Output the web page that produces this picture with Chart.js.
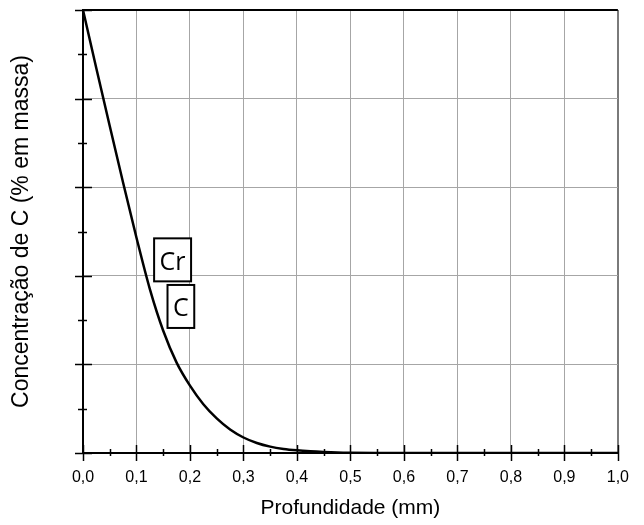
<!DOCTYPE html>
<html>
<head>
<meta charset="utf-8">
<script src="https://cdn.jsdelivr.net/npm/chart.js@4.4.1/dist/chart.umd.min.js"></script>
<style>
	html, body { margin:0; padding:0; background:#fff; }
</style>
</head>
<body>
<canvas id="chart" width="644" height="525"></canvas>
<script>
// Values
var depthMm = [0, 0.025, 0.05, 0.075, 0.1, 0.125, 0.15, 0.175, 0.2, 0.225, 0.25, 0.275, 0.3, 0.325, 0.35, 0.375, 0.4, 0.425, 0.45, 0.475, 0.5, 0.55, 0.6, 0.7, 0.8, 0.9, 1.0];
var carbonPct = [5.0, 4.34, 3.69, 3.05, 2.43, 1.85, 1.38, 1.02, 0.76, 0.55, 0.39, 0.265, 0.175, 0.113, 0.072, 0.046, 0.03, 0.019, 0.011, 0.005, 0.002, 0, 0, 0, 0, 0, 0];
var xTickLabels = ['0,0', '0,1', '0,2', '0,3', '0,4', '0,5', '0,6', '0,7', '0,8', '0,9', '1,0'];
var curveLabels = ['Cr', 'C'];

var points = [];
for (var i = 0; i < depthMm.length; i++) points.push({ x: depthMm[i], y: carbonPct[i] });

// boxes with the curve names, placed in data units
var labelSpots = [ { x: 0.1675, y: 2.18 }, { x: 0.183, y: 1.654 } ];

// ticks crossing both axes (major + minor)
var crossTicks = {
	id: 'crossTicks',
	afterDraw: function(chart){
		var ctx = chart.ctx, xs = chart.scales.x, ys = chart.scales.y, a = chart.chartArea;
		ctx.save();
		ctx.strokeStyle = '#000';
		ctx.lineWidth = 1.5;
		for (var i = 0; i <= 20; i++) {
			var px = Math.round(xs.getPixelForValue(i * 0.05)) + 0.5, big = (i % 2 == 0);
			ctx.beginPath();
			ctx.moveTo(px, a.bottom - (big ? 8 : 4));
			ctx.lineTo(px, a.bottom + (big ? 8 : 3));
			ctx.stroke();
		}
		for (var j = 0; j <= 10; j++) {
			var py = Math.round(ys.getPixelForValue(j * 0.5)) + 0.5, bigY = (j % 2 == 0);
			ctx.beginPath();
			ctx.moveTo(a.left - (bigY ? 8 : 5), py);
			ctx.lineTo(a.left + (bigY ? 9 : 4), py);
			ctx.stroke();
		}
		ctx.restore();
	}
};

var nameBoxes = {
	id: 'nameBoxes',
	afterDraw: function(chart){
		var ctx = chart.ctx, xs = chart.scales.x, ys = chart.scales.y;
		ctx.save();
		ctx.font = '25px "Open Sans"';
		ctx.strokeStyle = '#000';
		ctx.lineWidth = 2;
		ctx.textAlign = 'center';
		ctx.textBaseline = 'alphabetic';
		for (var i = 0; i < curveLabels.length; i++) {
			var cx = xs.getPixelForValue(labelSpots[i].x),
				cy = ys.getPixelForValue(labelSpots[i].y),
				w = ctx.measureText(curveLabels[i]).width + 11,
				h = 43;
			ctx.fillStyle = '#fff';
			ctx.fillRect(cx - w / 2, cy - h / 2, w, h);
			ctx.strokeRect(cx - w / 2, cy - h / 2, w, h);
			ctx.fillStyle = '#000';
			ctx.fillText(curveLabels[i], cx, cy + 10);
		}
		ctx.restore();
	}
};

new Chart(document.getElementById('chart').getContext('2d'), {
	type: 'line',
	data: {
		datasets: [{
			data: points,
			borderColor: '#000',
			borderWidth: 2.5,
			pointRadius: 0,
			fill: false,
			cubicInterpolationMode: 'monotone'
		}]
	},
	options: {
		responsive: false,
		animation: false,
		layout: { padding: { top: 10, right: 13, left: 0, bottom: 0 } },
		plugins: { legend: { display: false }, tooltip: { enabled: false } },
		scales: {
			x: {
				type: 'linear', min: 0, max: 1,
				afterFit: function(s){ s.height = 72; },
				ticks: {
					stepSize: 0.1,
					color: '#000',
					padding: 15,
					font: { family: '"Liberation Sans", Arial', size: 16 },
					callback: function(v, i){ return xTickLabels[i]; }
				},
				grid: {
					drawTicks: false,
					color: function(c){ return c.tick && c.tick.value >= 1 ? '#7a7a7a' : '#a6a6a6'; },
					lineWidth: function(c){ return c.tick && c.tick.value >= 1 ? 2 : 1; }
				},
				border: { display: true, color: '#000', width: 2 },
				title: {
					display: true,
					text: 'Profundidade (mm)',
					color: '#000',
					font: { family: '"Liberation Sans", Arial', size: 21 },
					padding: { top: 0, bottom: 4 }
				}
			},
			y: {
				min: 0, max: 5,
				afterFit: function(s){ s.width = 83; },
				ticks: { stepSize: 1, display: false },
				grid: {
					drawTicks: false,
					color: function(c){ return c.tick && c.tick.value >= 5 ? '#000' : '#a6a6a6'; },
					lineWidth: function(c){ return c.tick && c.tick.value >= 5 ? 2 : 1; }
				},
				border: { display: true, color: '#000', width: 2 },
				title: {
					display: true,
					text: 'Concentração de C (% em massa)',
					color: '#000',
					font: { family: '"Liberation Sans", Arial', size: 23 },
					padding: { top: 8, bottom: 0 }
				}
			}
		}
	},
	plugins: [crossTicks, nameBoxes]
});
</script>
</body>
</html>
